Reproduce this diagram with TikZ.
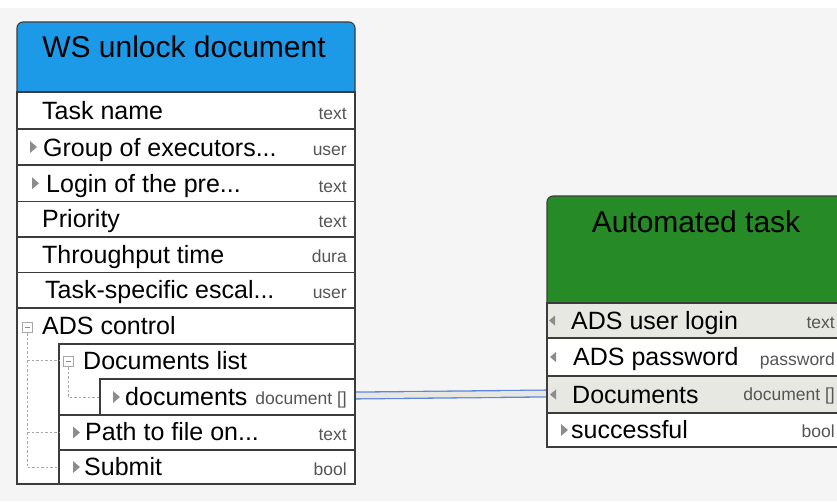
\documentclass[tikz,border=0pt]{standalone}
\usepackage{fontspec}
\setmainfont{Liberation Sans}
\definecolor{bgc}{HTML}{F5F5F5}
\definecolor{bluec}{HTML}{1C9AE8}
\definecolor{greenc}{HTML}{268A26}
\definecolor{linec}{HTML}{3C3C3C}
\definecolor{typec}{HTML}{555555}
\definecolor{shadec}{HTML}{E8E8E2}
\definecolor{arrc}{HTML}{8C8C8C}
\definecolor{treec}{HTML}{A8A8A8}
\definecolor{connc}{HTML}{5F86D8}
\definecolor{connf}{HTML}{E6E6E2}
\newcommand\myrtri[2]{\fill[arrc] (#1,#2-6) -- (#1+7,#2) -- (#1,#2+6) -- cycle;}
\newcommand\myltri[2]{\fill[arrc] (#1+6,#2-5) -- (#1,#2) -- (#1+6,#2+5) -- cycle;}
\newcommand\myminus[2]{\draw[treec, fill=white, line width=0.8pt] (#1,#2) rectangle (#1+10,#2+10);
  \draw[arrc, line width=0.9pt] (#1+2.5,#2+5) -- (#1+7.5,#2+5);}
\begin{document}
\begin{tikzpicture}[x=1pt,y=-1pt,
  rowbox/.style={draw=linec, line width=1.1pt, fill=white, anchor=north west, inner sep=0pt, outer sep=0pt},
  shaded/.style={fill=shadec},
  hdrbox/.style={draw=linec, line width=1.1pt, rounded corners=6pt, anchor=north west, inner sep=0pt, outer sep=0pt},
  titletext/.style={anchor=base, inner sep=0pt, font=\fontsize{30}{36}\selectfont},
  rowtext/.style={anchor=base west, inner sep=0pt, font=\fontsize{25}{30}\selectfont},
  typetext/.style={anchor=base east, inner sep=0pt, text=typec, font=\fontsize{17.5}{21}\selectfont},
  treeline/.style={treec, line width=0.8pt, dash pattern=on 2.5pt off 2pt},
  conn/.style={draw=connc, line width=1.3pt, double=connf, double distance=5.5pt}
]
\useasboundingbox (0,0) rectangle (837,501);
\clip (0,0) rectangle (837,501);
\fill[bgc] (0,8) rectangle (837,501);

% connector (drawn under the boxes)
\coordinate (cl) at (355,395.5);
\coordinate (cr) at (548,393.5);
\draw[conn] (cl) -- (cr);

% ---------- left box: WS unlock document ----------
\node[hdrbox, fill=bluec, minimum width=338pt, minimum height=80pt] (h1) at (17,22) {};
\node[rowbox, minimum width=338pt, minimum height=37pt] (r1) at (17,92) {};
\node[rowbox, minimum width=338pt, minimum height=36pt] (r2) at (17,129) {};
\node[rowbox, minimum width=338pt, minimum height=36.5pt] (r3) at (17,165) {};
\node[rowbox, minimum width=338pt, minimum height=35.5pt] (r4) at (17,201.5) {};
\node[rowbox, minimum width=338pt, minimum height=35.5pt] (r5) at (17,237) {};
\node[rowbox, minimum width=338pt, minimum height=35.5pt] (r6) at (17,272.5) {};
\node[rowbox, minimum width=338pt, minimum height=176pt] (r7) at (17,308) {};
\node[rowbox, minimum width=296pt, minimum height=71pt] (r8) at (59,344) {};
\node[rowbox, minimum width=255pt, minimum height=36pt] (r9) at (100,379) {};
\node[rowbox, minimum width=296pt, minimum height=35pt] (r10) at (59,415) {};
\node[rowbox, minimum width=296pt, minimum height=34pt] (r11) at (59,450) {};

\node[titletext] (h1t) at (184,57) {WS unlock document};

\node[rowtext] (t1) at (42,119.5) {Task name};
\node[typetext] (l1) at (347,119) {text};
\node[rowtext] (t2) at (43,156) {Group of executors...};
\node[typetext] (l2) at (347,155.5) {user};
\node[rowtext] (t3) at (46,192.5) {Login of the pre...};
\node[typetext] (l3) at (347,192) {text};
\node[rowtext] (t4) at (42,227.5) {Priority};
\node[typetext] (l4) at (347,227) {text};
\node[rowtext] (t5) at (42,263) {Throughput time};
\node[typetext] (l5) at (347,262.5) {dura};
\node[rowtext] (t6) at (45,298.5) {Task-specific escal...};
\node[typetext] (l6) at (347,298) {user};
\node[rowtext] (t7) at (42,334.5) {ADS control};
\node[rowtext] (t8) at (83,369.5) {Documents list};
\node[rowtext] (t9) at (125,405) {documents};
\node[typetext] (l9) at (347,404.5) {document []};
\node[rowtext] (t10) at (85,440.5) {Path to file on...};
\node[typetext] (l10) at (347,440) {text};
\node[rowtext] (t11) at (84,475.5) {Submit};
\node[typetext] (l11) at (347,475) {bool};

\myrtri{30}{147}
\myrtri{32}{183.25}
\myrtri{113}{397}
\myrtri{73}{432.5}
\myrtri{73}{467}

% tree lines
\draw[treeline] (27,333) -- (27,467.5) -- (59,467.5);
\draw[treeline] (27,360.5) -- (59,360.5);
\draw[treeline] (27,432.5) -- (59,432.5);
\draw[treeline] (68,367) -- (68,397) -- (100,397);
\myminus{22}{322}
\myminus{63}{356}

% ---------- right box: Automated task ----------
\node[hdrbox, fill=greenc, minimum width=296pt, minimum height=114pt] (h2) at (547,196) {};
\node[rowbox, shaded, minimum width=296pt, minimum height=35pt] (q1) at (547,303) {};
\node[rowbox, minimum width=296pt, minimum height=38pt] (q2) at (547,338) {};
\node[rowbox, shaded, minimum width=296pt, minimum height=37pt] (q3) at (547,376) {};
\node[rowbox, minimum width=296pt, minimum height=34pt] (q4) at (547,413) {};

\node[titletext] (h2t) at (696,232) {Automated task};

\node[rowtext] (s1) at (571,329) {ADS user login};
\node[typetext] (m1) at (835,328.5) {text};
\node[rowtext] (s2) at (573,365.5) {ADS password};
\node[typetext] (m2) at (835,365) {password};
\node[rowtext] (s3) at (572,403) {Documents};
\node[typetext] (m3) at (835,400) {document []};
\node[rowtext] (s4) at (571,438) {successful};
\node[typetext] (m4) at (835,437.5) {bool};

\myltri{549}{320.5}
\myltri{550}{357}
\myltri{550}{394.5}
\myrtri{561}{430}
\end{tikzpicture}
\end{document}
